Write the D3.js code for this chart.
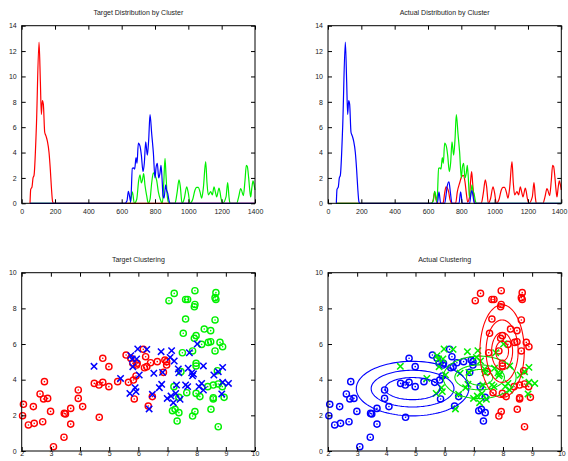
<!DOCTYPE html>
<html><head><meta charset="utf-8">
<script src="https://cdn.jsdelivr.net/npm/d3@7"></script>
<style>
html,body{margin:0;padding:0;background:#fff;}
svg{display:block;font-family:"Liberation Sans",Arial,sans-serif;}
svg text{-webkit-font-smoothing:antialiased;}
</style></head>
<body>
<svg id="c" width="568" height="461"></svg>
<script>
// ---------------- DATA ----------------
const distTitles = ["Target Distribution by Cluster", "Actual Distribution by Cluster"];
const scatTitles = ["Target Clustering", "Actual Clustering"];
const distXTicks = [0, 200, 400, 600, 800, 1000, 1200, 1400];
const distYTicks = [0, 2, 4, 6, 8, 10, 12, 14];
const scatXTicks = [2, 3, 4, 5, 6, 7, 8, 9, 10];
const scatYTicks = [0, 2, 4, 6, 8, 10];

// low cluster histogram (x, count)
const lowCluster = [[50,0],[54,1.1],[62,1.3],[68,2.0],[74,2.2],[88,6.0],[104,12.7],[112,9.6],[118,7.0],[124,8.1],[130,7.8],[138,5.6],[146,5.3],[154,4.9],[164,4.0],[172,2.6],[178,1.3],[186,0.1],[192,0],[1400,0]];
// middle cluster histogram
const midCluster = [[50,0],[620,0],[632,0.2],[640,0.95],[648,0.5],[654,0.1],[664,2.76],[672,2.8],[678,2.7],[686,3.6],[692,3.15],[700,4.75],[710,4.5],[718,3.8],[728,2.5],[736,3.2],[744,4.85],[754,3.8],[762,5.0],[770,7.0],[780,5.5],[790,4.0],[800,2.0],[806,2.8],[814,3.15],[822,2.0],[830,2.4],[836,3.0],[842,2.0],[848,0.6],[854,0.4],[864,1.45],[870,1.0],[876,0.8],[884,0.2],[890,0],[1400,0]];
// high (spread) cluster, target
const highTarget = [[50,0],[620,0],[650,0],[664,0.9],[676,0],[690,0.3],[702,1.8],[710,2.25],[718,1.6],[724,1.8],[732,2.35],[740,1.4],[750,0.6],[760,0],[770,0.3],[780,1.6],[790,2.4],[800,2.2],[810,1.8],[820,0.9],[832,0.3],[844,0],[852,1.5],[860,3.55],[866,2.2],[872,0.8],[880,0.1],[890,0],[920,0],[932,0.8],[944,1.85],[952,1.3],[962,0],[976,0.4],[990,1.3],[1000,0.8],[1010,0],[1026,0.3],[1040,1.05],[1050,1.25],[1060,1.26],[1070,0.9],[1080,0.4],[1090,1.2],[1104,3.28],[1112,1.6],[1120,0.66],[1134,0.92],[1144,0.66],[1154,1.3],[1162,0.9],[1170,0.5],[1184,1.2],[1190,0.9],[1196,0.4],[1206,0],[1226,0.5],[1236,1.63],[1244,0.5],[1250,0],[1290,0],[1302,0.5],[1314,1.15],[1320,1.0],[1330,0.6],[1340,1.8],[1348,3.0],[1354,2.9],[1362,2.0],[1368,1.1],[1374,0.5],[1380,1.1],[1388,1.76],[1394,1.5],[1400,1.05]];
// high cluster, actual
const highActual = [[50,0],[620,0],[632,0.3],[640,0.9],[648,0.3],[656,0],[690,0],[700,0.8],[708,1.3],[716,1.2],[724,0.9],[732,0.3],[744,0],[766,0],[776,0.9],[790,1.6],[802,2.1],[812,2.2],[822,1.7],[830,0.8],[838,0.1],[848,0.4],[856,1.8],[862,2.5],[868,1.6],[874,0.6],[882,0],[920,0],[932,0.8],[944,1.85],[952,1.3],[962,0],[976,0.4],[990,1.3],[1000,0.8],[1010,0],[1026,0.3],[1040,1.05],[1050,1.25],[1060,1.26],[1070,0.9],[1080,0.4],[1090,1.2],[1104,3.28],[1112,1.6],[1120,0.66],[1134,0.92],[1144,0.66],[1154,1.3],[1162,0.9],[1170,0.5],[1184,1.2],[1190,0.9],[1196,0.4],[1206,0],[1226,0.5],[1236,1.63],[1244,0.5],[1250,0],[1290,0],[1302,0.5],[1314,1.15],[1320,1.0],[1330,0.6],[1340,1.8],[1348,3.0],[1354,2.9],[1362,2.0],[1368,1.1],[1374,0.5],[1380,1.1],[1388,1.76],[1394,1.5],[1400,1.05]];
// low cluster (actual) incl. small extra bumps
const lowActual = [[50,0],[54,1.1],[62,1.3],[68,2.0],[74,2.2],[88,6.0],[104,12.7],[112,9.6],[118,7.0],[124,8.1],[130,7.8],[138,5.6],[146,5.3],[154,4.9],[164,4.0],[172,2.6],[178,1.3],[186,0.1],[192,0],[656,0],[666,0.9],[676,0],[700,0],[708,0.6],[716,1.4],[726,1.7],[734,0.9],[744,0],[786,0],[796,0.9],[806,0],[850,0],[858,0.8],[864,1.0],[870,0.6],[878,0],[1400,0]];

// scatter points: [x, y]
const groupA = [[2.03,1.98],[2.06,2.62],[2.23,1.46],[2.40,2.49],[2.43,1.55],[2.63,3.20],[2.72,1.64],[2.75,2.92],[2.78,3.89],[2.89,2.95],[2.99,2.22],[3.09,0.24],[3.45,0.77],[3.46,2.11],[3.50,2.08],[3.68,1.51],[3.68,2.39],[3.94,3.42],[3.94,2.95],[4.09,2.49],[4.49,3.79],[4.65,3.70],[4.66,1.89],[4.78,5.20],[4.78,3.85],[4.99,4.73],[4.99,3.61],[5.29,3.89],[5.58,5.38],[5.66,3.85],[5.74,5.20],[5.81,4.92],[5.83,3.98],[5.86,2.92],[5.92,4.21],[5.94,4.82],[5.96,4.92],[6.17,5.70],[6.25,5.29],[6.21,4.67],[6.29,4.73],[6.34,2.52],[6.42,4.95],[6.48,3.05],[6.65,5.01],[6.86,4.41],[6.91,5.10],[6.97,4.82],[6.97,5.01]];
const groupB = [[4.48,4.75],[5.39,4.07],[5.74,5.35],[5.79,5.16],[5.81,4.73],[5.71,3.23],[5.89,3.55],[5.92,3.33],[5.94,5.16],[5.98,5.72],[6.03,4.26],[6.29,5.70],[6.37,2.36],[6.48,3.18],[6.53,4.36],[6.72,3.55],[6.80,3.74],[6.78,5.57],[6.83,4.41],[6.99,2.95],[7.09,5.25],[7.12,3.08],[7.14,5.63],[7.20,2.71],[7.23,5.05],[7.28,3.23],[7.31,3.70],[7.37,4.60],[7.39,4.39],[7.43,2.90],[7.62,3.70],[7.69,3.61],[7.71,4.64],[7.75,5.51],[7.83,4.39],[7.86,4.22],[7.89,4.32],[8.02,6.00],[8.08,3.61],[8.17,3.79],[8.23,4.77],[8.23,3.42],[8.59,4.26],[8.74,4.45],[8.86,3.20],[8.89,4.69],[8.89,3.85],[9.09,3.79]];
const groupC = [[7.05,8.43],[7.23,8.84],[7.62,8.50],[7.69,8.50],[7.94,8.99],[7.92,8.09],[7.94,8.22],[8.63,8.60],[8.66,8.88],[8.66,8.50],[7.62,7.40],[8.63,7.35],[7.54,6.60],[7.98,6.47],[7.92,6.32],[8.26,6.84],[8.48,6.75],[8.40,6.09],[8.48,6.13],[8.17,5.98],[8.80,6.09],[8.89,5.85],[8.63,5.61],[7.86,5.61],[7.51,5.51],[7.98,4.92],[7.98,4.77],[7.46,4.45],[8.71,4.50],[7.66,3.27],[7.98,3.23],[8.11,3.05],[8.38,3.61],[8.57,3.70],[8.74,3.76],[8.88,3.61],[8.57,2.99],[8.57,2.92],[8.94,3.01],[7.86,1.96],[7.94,2.21],[8.49,2.34],[8.74,1.36]];
// points of target group C that the actual clustering put with group A
const groupCtoA = [[7.22,3.61],[7.39,3.01],[7.17,2.26],[7.26,2.34],[7.39,2.15],[7.33,1.68]];

// contour ellipses of the actual clustering: centre x, centre y, radii x, radii y
const ellColors = ["#0000ff", "#00e000", "#ff0000"];
const ellCx = [4.9, 7.2, 7.97];
const ellCy = [3.5, 4.13, 5.6];
const ellRx = [[0.94, 1.42, 1.93], [0.45, 0.85, 1.25], [0.22, 0.36, 0.55, 0.76]];
const ellRy = [[0.62, 1.03, 1.53], [0.44, 0.7, 1.19], [0.55, 1.05, 1.75, 2.6]];

// ---------------- DRAW ----------------
const RED = "#ff0000", GREEN = "#00f000", BLUE = "#0000ff";
const svg = d3.select("#c");
const W = 568, H = 461;
const panels = [
  {L: 21.7, R: 255, T: 25.7, B: 203.3},
  {L: 328, R: 561.3, T: 25.7, B: 203.3},
  {L: 21.7, R: 255, T: 272.7, B: 451},
  {L: 328, R: 561.3, T: 272.7, B: 451}
];

function frame(p, xs, ys, xt, yt, title, titleY) {
  const g = svg.append("g");
  const tick = 4;
  const bottomPad = Math.min(6, H - 0.5 - p.B - 4 - 7 * 0.75);
  g.append("g").attr("transform", `translate(0,${p.B})`)
    .call(d3.axisBottom(xs).tickValues(xt).tickFormat(d3.format("d")).tickSizeInner(-tick).tickSizeOuter(0).tickPadding(bottomPad))
    .call(a => a.select(".domain").remove());
  g.append("g").attr("transform", `translate(0,${p.T})`)
    .call(d3.axisTop(xs).tickValues(xt).tickSizeInner(-tick).tickSizeOuter(0).tickFormat(""))
    .call(a => a.select(".domain").remove());
  g.append("g").attr("transform", `translate(${p.L},0)`)
    .call(d3.axisLeft(ys).tickValues(yt).tickSizeInner(-tick).tickSizeOuter(0).tickPadding(5))
    .call(a => a.select(".domain").remove());
  g.append("g").attr("transform", `translate(${p.R},0)`)
    .call(d3.axisRight(ys).tickValues(yt).tickSizeInner(-tick).tickSizeOuter(0).tickFormat(""))
    .call(a => a.select(".domain").remove());
  g.selectAll(".tick line").attr("stroke", "#000").attr("stroke-width", 1);
  g.selectAll(".tick text").attr("font-size", 7).attr("fill", "#222").attr("opacity", 0.999)
    .attr("font-family", "Liberation Sans, Arial, sans-serif");
  // keep labels inside the canvas edge
  g.selectAll(".tick text").each(function () {
    const bb = this.getBBox();
    const ctm = this.getCTM();
    const right = ctm.e + bb.x + bb.width;
    if (right > W - 0.5) d3.select(this).attr("dx", (W - 0.5 - right) + "px");
  });
  g.append("rect").attr("x", p.L).attr("y", p.T).attr("width", p.R - p.L).attr("height", p.B - p.T)
    .attr("fill", "none").attr("stroke", "#000").attr("stroke-width", 1);
  svg.append("text").attr("x", (p.L + p.R) / 2).attr("y", titleY).attr("text-anchor", "middle")
    .attr("font-size", 7).attr("fill", "#222").attr("opacity", 0.999).text(title);
  return g;
}

// distribution panels
function distPanel(p, series, title) {
  const xs = d3.scaleLinear().domain([0, 1400]).range([p.L, p.R]);
  const ys = d3.scaleLinear().domain([0, 14]).range([p.B, p.T]);
  const line = d3.line().x(d => xs(d[0])).y(d => ys(d[1])).curve(d3.curveMonotoneX);
  const g = svg.append("g");
  series.forEach(s => {
    g.append("path").attr("d", line(s.data)).attr("fill", "none")
      .attr("stroke", s.color).attr("stroke-width", 1.2).attr("stroke-linejoin", "round");
  });
  frame(p, xs, ys, distXTicks, distYTicks, title, 14.5);
}
distPanel(panels[0], [
  {data: highTarget, color: GREEN},
  {data: lowCluster, color: RED},
  {data: midCluster, color: BLUE}
], distTitles[0]);
distPanel(panels[1], [
  {data: highActual, color: RED},
  {data: midCluster, color: GREEN},
  {data: lowActual, color: BLUE}
], distTitles[1]);

// scatter panels
function circleMark(g, xs, ys, pts, color) {
  g.selectAll(null).data(pts).enter().append("circle")
    .attr("cx", d => xs(d[0])).attr("cy", d => ys(d[1])).attr("r", 3.1)
    .attr("fill", "none").attr("stroke", color).attr("stroke-width", 1.4);
  g.selectAll(null).data(pts).enter().append("circle")
    .attr("cx", d => xs(d[0])).attr("cy", d => ys(d[1])).attr("r", 0.8)
    .attr("fill", color);
}
function crossMark(g, xs, ys, pts, color) {
  const s = 3.2;
  g.selectAll(null).data(pts).enter().append("path")
    .attr("d", d => {
      const x = xs(d[0]), y = ys(d[1]);
      return `M${x - s},${y - s}L${x + s},${y + s}M${x - s},${y + s}L${x + s},${y - s}`;
    })
    .attr("stroke", color).attr("stroke-width", 1.5).attr("fill", "none");
}
function scatPanel(p, title, drawFn) {
  const xs = d3.scaleLinear().domain([2, 10]).range([p.L, p.R]);
  const ys = d3.scaleLinear().domain([0, 10]).range([p.B, p.T]);
  const g = svg.append("g");
  drawFn(g, xs, ys);
  frame(p, xs, ys, scatXTicks, scatYTicks, title, 261.5);
}
scatPanel(panels[2], scatTitles[0], (g, xs, ys) => {
  circleMark(g, xs, ys, groupA, RED);
  circleMark(g, xs, ys, groupC.concat(groupCtoA), GREEN);
  crossMark(g, xs, ys, groupB, BLUE);
});
scatPanel(panels[3], scatTitles[1], (g, xs, ys) => {
  circleMark(g, xs, ys, groupA.concat(groupCtoA), BLUE);
  circleMark(g, xs, ys, groupC, RED);
  crossMark(g, xs, ys, groupB, GREEN);
  const line = d3.line().x(d => xs(d[0])).y(d => ys(d[1])).curve(d3.curveLinearClosed);
  ellCx.forEach((cx, i) => {
    ellRx[i].forEach((rx, j) => {
      const ry = ellRy[i][j];
      const pts = d3.range(0, 120).map(k => {
        const t = k / 120 * 2 * Math.PI;
        return [cx + rx * Math.cos(t), ellCy[i] + ry * Math.sin(t)];
      });
      g.append("path").attr("d", line(pts)).attr("fill", "none")
        .attr("stroke", ellColors[i]).attr("stroke-width", 1.1);
    });
  });
});
</script>
</body></html>
